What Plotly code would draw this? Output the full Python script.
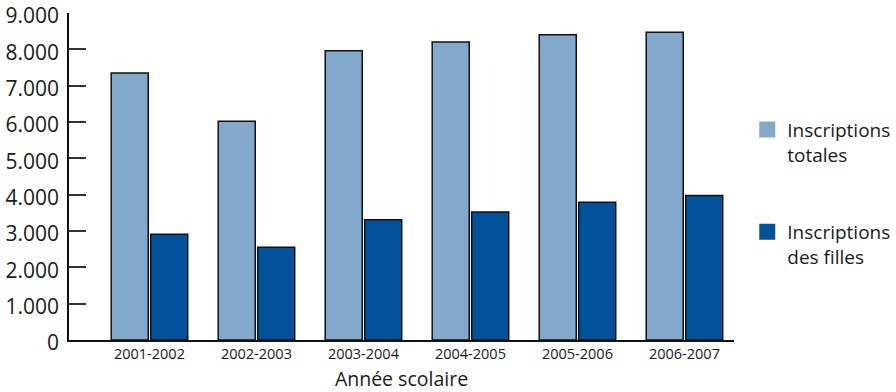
import plotly.graph_objects as go

categories = ["2001-2002", "2002-2003", "2003-2004", "2004-2005", "2005-2006", "2006-2007"]
totales = [7350, 6020, 7960, 8200, 8400, 8470]
filles = [2910, 2550, 3310, 3520, 3790, 3980]
series_names = ["Inscriptions<br>totales", "Inscriptions<br>des filles"]
y_ticks = [0, 1000, 2000, 3000, 4000, 5000, 6000, 7000, 8000, 9000]

col_tot = "#84a8cc"
col_fil = "#02529b"
FONT = "Open Sans"

fig = go.Figure()
fig.add_trace(go.Bar(x=categories, y=totales, marker=dict(color=col_tot, line=dict(color="#111", width=1.5)),
                     showlegend=False))
fig.add_trace(go.Bar(x=categories, y=filles, marker=dict(color=col_fil, line=dict(color="#111", width=1.5)),
                     showlegend=False))
# legend entries
for name, col, grp in [(series_names[0], col_tot, "a"), (series_names[1], col_fil, "b")]:
    fig.add_trace(go.Scatter(x=[None], y=[None], mode="markers", name=name, legendgroup=grp,
                             marker=dict(symbol="square", size=16, color=col, line=dict(width=0))))

fig.update_layout(
    template="none",
    width=896, height=392,
    margin=dict(l=69, r=162, t=13, b=52),
    paper_bgcolor="white", plot_bgcolor="white",
    separators=",.",
    barmode="group", bargap=0.262, bargroupgap=0.062,
    font=dict(family=FONT, color="#1a1a1a"),
    legend=dict(xref="container", yref="container", x=0.834, xanchor="left", y=0.718, yanchor="top",
                valign="top", tracegroupgap=50, font=dict(size=19, family=FONT, color="#1a1a1a"),
                bgcolor="rgba(0,0,0,0)", borderwidth=0),
    xaxis=dict(type="category", range=[-0.752, 5.463], showline=True, linecolor="#111", linewidth=1.5,
               ticks="", tickfont=dict(size=14.5, family=FONT), showgrid=False, zeroline=False,
               automargin=False,
               title=dict(text="Année scolaire", font=dict(size=19.5, family=FONT), standoff=13)),
    yaxis=dict(range=[0, 9001], tickvals=y_ticks, tickformat=",d", showline=True, linecolor="#111",
               linewidth=1.5, ticks="inside", ticklen=17, tickwidth=1.5, tickcolor="#333",
               ticklabeloverflow="allow", automargin=False, ticklabelshift=3, ticklabelstandoff=4,
               tickfont=dict(size=21, family=FONT), showgrid=False, zeroline=False),
)

fig.write_html("out.html")
